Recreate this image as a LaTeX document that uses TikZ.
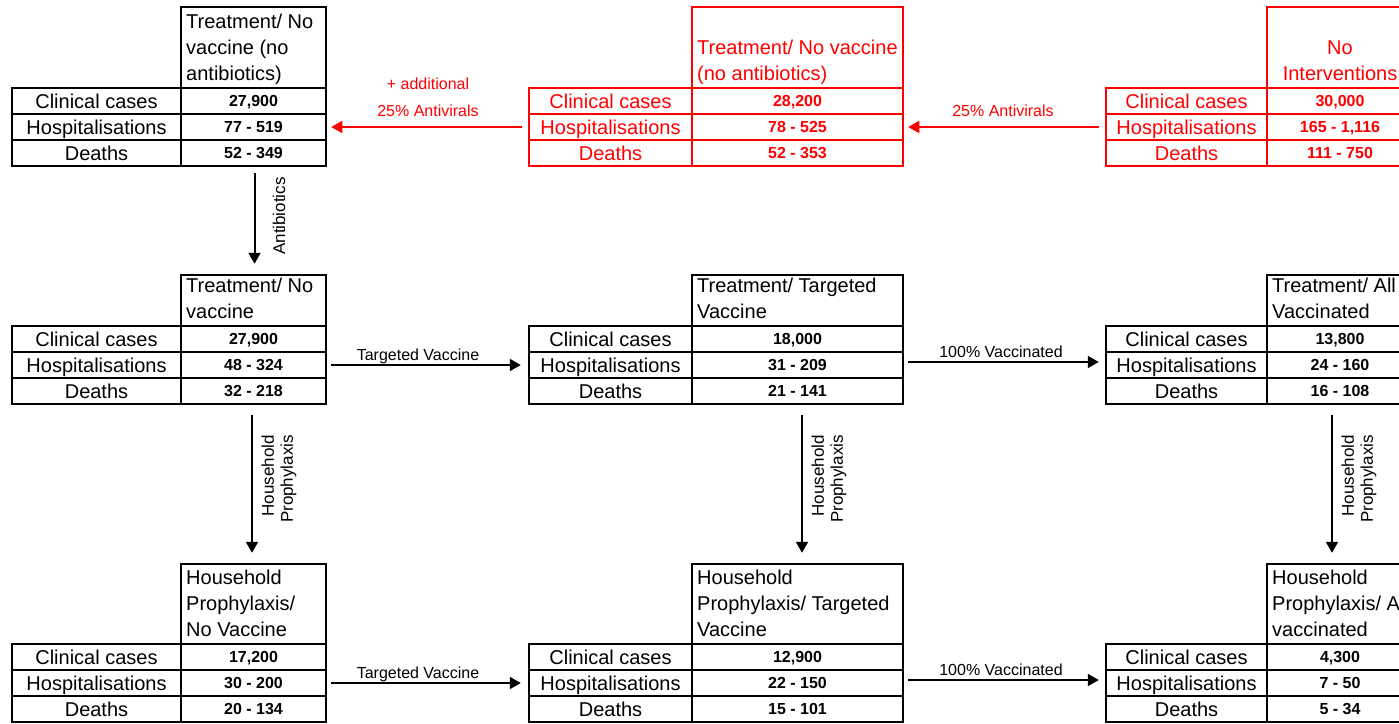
\documentclass[tikz,border=0pt]{standalone}
\usepackage{fontspec}
\setmainfont{Liberation Sans}
\usetikzlibrary{arrows.meta}
\tikzset{
  cell/.style={draw, line width=2.5pt, inner sep=0pt, font=\fontsize{20}{26}\selectfont, text height=15.6pt, text depth=1.2pt},
  val/.style={font=\fontsize{16}{20}\selectfont\bfseries, text height=12.5pt, text depth=1pt},
  head/.style={inner sep=0pt, font=\fontsize{20}{26}\selectfont, text depth=0pt, align=left, anchor=south west},
  arr/.style={line width=2pt, -{Triangle[width=12pt,length=11pt]}},
  lab/.style={inner sep=0pt, font=\fontsize{16}{27}\selectfont},
  rlab/.style={inner sep=0pt, font=\fontsize{17}{19}\selectfont, rotate=90, align=right},
}
% #1 name, #2 x left, #3 x divider, #4 x right, #5 header top, #6 header bottom, #7-#9 values
\newcommand\mktable[9]{%
  \node[cell, minimum width={#4-#3}, minimum height={#6-#5}] (#1h) at ({(#3+#4)/2},{(#5+#6)/2}) {};
  \node[cell, minimum width={#3-#2}, minimum height=26pt] (#1l1) at ({(#2+#3)/2},{#6+13}) {Clinical cases};
  \node[cell, minimum width={#3-#2}, minimum height=26pt] (#1l2) at ({(#2+#3)/2},{#6+39}) {Hospitalisations};
  \node[cell, minimum width={#3-#2}, minimum height=26pt] (#1l3) at ({(#2+#3)/2},{#6+65}) {Deaths};
  \node[cell, val, minimum width={#4-#3}, minimum height=26pt] (#1v1) at ({(#3+#4)/2},{#6+13}) {#7};
  \node[cell, val, minimum width={#4-#3}, minimum height=26pt] (#1v2) at ({(#3+#4)/2},{#6+39}) {#8};
  \node[cell, val, minimum width={#4-#3}, minimum height=26pt] (#1v3) at ({(#3+#4)/2},{#6+65}) {#9};
}
\begin{document}
\begin{tikzpicture}[x=1pt, y=-1pt]
\useasboundingbox (0,0) rectangle (1399,723);
\clip (0,0) rectangle (1399,723);
\fill[white] (0,0) rectangle (1399,723);

% ---- top row ----
\mktable{A}{12}{181}{326}{7}{88}{27,900}{77 - 519}{52 - 349}
\node[head] (At) at (186,81) {Treatment/ No\\vaccine (no\\antibiotics)};

\begin{scope}[red]
\mktable{B}{529}{692}{903}{7}{88}{28,200}{78 - 525}{52 - 353}
\node[head] (Bt) at (697,81) {Treatment/ No vaccine\\(no antibiotics)};
\mktable{C}{1106}{1267}{1413}{7}{88}{30,000}{165 - 1,116}{111 - 750}
\node[head, align=center, anchor=south] (Ct) at (1340,81) {No\\Interventions};

\draw[arr] ([xshift=-6pt]Bl2.west) -- ([xshift=4pt]Av2.east);
\node[lab, align=center, anchor=south, text depth=0pt] (labAV1) at (428,117) {+ additional\\25\% Antivirals};
\draw[arr] ([xshift=-6pt]Cl2.west) -- ([xshift=4pt]Bv2.east);
\node[lab, anchor=base] (labAV2) at (1003,116) {25\% Antivirals};
\end{scope}

% ---- middle row ----
\mktable{D}{12}{181}{326}{275}{326}{27,900}{48 - 324}{32 - 218}
\node[head] (Dt) at (186,319) {Treatment/ No\\vaccine};
\mktable{E}{529}{692}{903}{275}{326}{18,000}{31 - 209}{21 - 141}
\node[head] (Et) at (697,319) {Treatment/ Targeted\\Vaccine};
\mktable{F}{1106}{1267}{1413}{275}{326}{13,800}{24 - 160}{16 - 108}
\node[head] (Ft) at (1272,319) {Treatment/ All\\Vaccinated};

% ---- bottom row ----
\mktable{G}{12}{181}{326}{564}{644}{17,200}{30 - 200}{20 - 134}
\node[head] (Gt) at (186,637) {Household\\Prophylaxis/\\No Vaccine};
\mktable{H}{529}{692}{903}{564}{644}{12,900}{22 - 150}{15 - 101}
\node[head] (Ht) at (697,637) {Household\\Prophylaxis/ Targeted\\Vaccine};
\mktable{I}{1106}{1267}{1413}{564}{644}{4,300}{7 - 50}{5 - 34}
\node[head] (It) at (1272,637) {Household\\Prophylaxis/ All\\vaccinated};

% ---- vertical arrows ----
\draw[arr] ([xshift=1pt,yshift=-6pt]Av3.south) -- ([xshift=1pt,yshift=10pt]Dh.north);
\node[rlab] (labAB) at (279,216) {Antibiotics};

\draw[arr] ([xshift=-1.5pt,yshift=-10pt]Dv3.south) -- ([xshift=-1.5pt,yshift=10pt]Gh.north);
\node[rlab] (labHP1) at (279,479) {Household\\Prophylaxis};
\draw[arr] ([xshift=4.5pt,yshift=-10pt]Ev3.south) -- ([xshift=4.5pt,yshift=10pt]Hh.north);
\node[rlab] (labHP2) at (829,479) {Household\\Prophylaxis};
\draw[arr] ([xshift=-8pt,yshift=-10pt]Fv3.south) -- ([xshift=-8pt,yshift=10pt]Ih.north);
\node[rlab] (labHP3) at (1359,479) {Household\\Prophylaxis};

% ---- horizontal arrows ----
\draw[arr] ([xshift=4pt]Dv2.east) -- ([xshift=-7pt]El2.west);
\node[lab, anchor=base] (labTV1) at (418,360) {Targeted Vaccine};
\draw[arr] ([xshift=4pt,yshift=3pt]Ev2.east) -- ([xshift=-6pt,yshift=3pt]Fl2.west);
\node[lab, anchor=base] (labV1) at (1001,357) {100\% Vaccinated};

\draw[arr] ([xshift=4pt]Gv2.east) -- ([xshift=-7pt]Hl2.west);
\node[lab, anchor=base] (labTV2) at (418,678) {Targeted Vaccine};
\draw[arr] ([xshift=4pt,yshift=3pt]Hv2.east) -- ([xshift=-6pt,yshift=3pt]Il2.west);
\node[lab, anchor=base] (labV2) at (1001,675) {100\% Vaccinated};
\end{tikzpicture}
\end{document}
